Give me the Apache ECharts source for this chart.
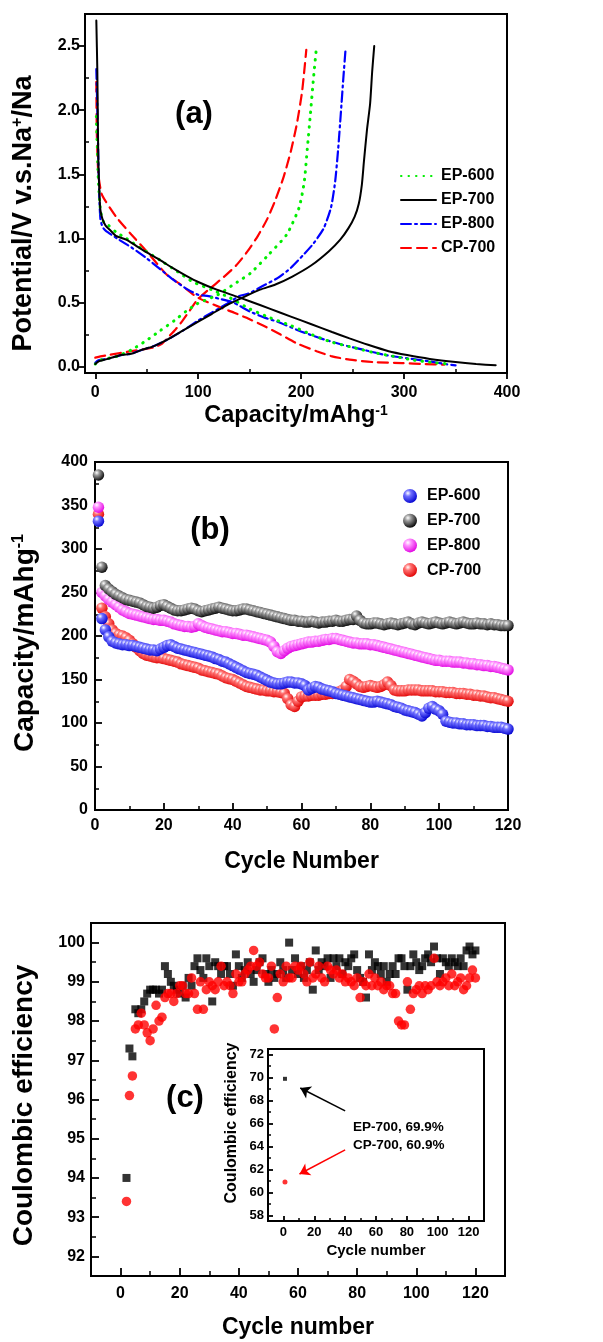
<!DOCTYPE html>
<html>
<head>
<meta charset="utf-8">
<script src="https://cdn.jsdelivr.net/npm/echarts@6/dist/echarts.min.js"></script>
<style>
  html, body { margin: 0; padding: 0; background: #fff; }
  #chart { width: 603px; height: 1342px; }
</style>
</head>
<body>
<div id="chart"></div>
<script>
const FONT = '"Liberation Sans", Arial, Helvetica, sans-serif'

// ---- panel (a): charge / discharge profiles, [capacity mAh/g, potential V]
const ep600Dis = [[1, 1.95], [2, 1.7], [3, 1.45], [5, 1.22], [8, 1.13], [13, 1.1], [20, 1.05], [30, 1.0], [45, 0.92], [63, 0.83], [80, 0.74], [95, 0.66], [113, 0.6], [130, 0.54], [150, 0.45], [170, 0.38], [190, 0.32], [210, 0.25], [230, 0.19], [250, 0.15], [270, 0.11], [290, 0.08], [310, 0.05], [330, 0.03], [344, 0.02]]
const ep600Chg = [[0, 0.02], [5, 0.05], [21, 0.08], [35, 0.13], [49, 0.2], [63, 0.28], [77, 0.36], [88, 0.43], [99, 0.49], [119, 0.56], [138, 0.66], [151, 0.73], [168, 0.87], [186, 1.03], [198, 1.24], [203, 1.44], [206, 1.7], [209, 1.97], [212, 2.25], [215, 2.5]]
const ep700Dis = [[1, 2.7], [2, 2.3], [2.5, 1.9], [3, 1.6], [4, 1.35], [5, 1.22], [7, 1.15], [10, 1.1], [15, 1.06], [20, 1.02], [30, 0.99], [40, 0.94], [50, 0.89], [63, 0.83], [75, 0.77], [88, 0.71], [100, 0.66], [118, 0.6], [136, 0.55], [150, 0.51], [170, 0.45], [190, 0.39], [210, 0.33], [230, 0.27], [247, 0.22], [265, 0.17], [285, 0.12], [303, 0.09], [325, 0.06], [350, 0.035], [370, 0.02], [389, 0.01]]
const ep700Chg = [[0, 0.02], [3, 0.04], [12, 0.06], [25, 0.09], [35, 0.1], [45, 0.13], [57, 0.16], [70, 0.21], [85, 0.28], [100, 0.35], [113, 0.41], [128, 0.48], [141, 0.53], [160, 0.6], [175, 0.64], [191, 0.7], [210, 0.79], [227, 0.9], [238, 0.99], [246, 1.08], [252, 1.17], [256, 1.27], [259, 1.42], [261, 1.6], [264, 1.85], [267, 2.05], [269, 2.3], [271, 2.5]]
const ep800Dis = [[1, 2.32], [2, 2.0], [3, 1.6], [4, 1.3], [5, 1.15], [7, 1.09], [10, 1.06], [21, 1.0], [35, 0.93], [49, 0.85], [63, 0.76], [77, 0.67], [90, 0.6], [100, 0.56], [110, 0.55], [120, 0.53], [134, 0.5], [150, 0.43], [165, 0.38], [177, 0.35], [198, 0.28], [219, 0.22], [240, 0.17], [261, 0.13], [282, 0.09], [303, 0.065], [325, 0.04], [340, 0.02], [350, 0.01]]
const ep800Chg = [[0, 0.03], [3, 0.05], [12, 0.06], [25, 0.09], [35, 0.1], [45, 0.13], [57, 0.16], [70, 0.21], [85, 0.28], [100, 0.36], [113, 0.42], [128, 0.49], [140, 0.55], [149, 0.57], [163, 0.63], [177, 0.69], [190, 0.77], [202, 0.87], [212, 0.96], [222, 1.08], [229, 1.24], [233, 1.44], [236, 1.7], [238.5, 1.97], [241, 2.25], [243, 2.46]]
const cp700Dis = [[1, 2.22], [1.5, 1.82], [3, 1.5], [6, 1.35], [10, 1.29], [21, 1.16], [35, 1.03], [52, 0.88], [69, 0.72], [83, 0.64], [99, 0.54], [122, 0.46], [135, 0.42], [147, 0.38], [163, 0.32], [180, 0.25], [196, 0.18], [215, 0.12], [230, 0.08], [247, 0.054], [270, 0.035], [298, 0.027], [320, 0.02], [339, 0.015]]
const cp700Chg = [[0, 0.07], [5, 0.08], [12.6, 0.09], [35, 0.12], [57, 0.15], [65, 0.18], [71, 0.23], [78, 0.29], [85, 0.36], [92, 0.44], [99, 0.52], [113, 0.62], [125, 0.7], [137, 0.79], [148, 0.9], [158, 1.02], [167, 1.15], [175, 1.3], [183, 1.48], [190, 1.68], [196, 1.9], [201, 2.15], [205, 2.47]]

// ---- panel (b): capacity vs cycle (cycles 1..120)
const capEP600 = [332, 220, 207, 199, 194, 192, 191, 190, 190, 189,
  189, 188, 187, 186, 185, 184, 184, 183, 185, 187,
  189, 190, 188, 186, 185, 184, 183, 182, 181, 180,
  179, 178, 177, 176, 174, 173, 171, 170, 168, 166,
  164, 162, 160, 158, 157, 156, 155, 153, 151, 149,
  147, 146, 145, 145, 146, 147, 147, 146, 146, 145,
  143, 138, 140, 142, 141, 139, 138, 137, 136, 134,
  133, 132, 131, 130, 129, 128, 127, 126, 125, 124,
  124, 125, 124, 123, 122, 121, 119, 118, 117, 115,
  114, 113, 112, 110, 108, 112, 117, 119, 116, 114,
  110, 102, 101, 100, 100, 99, 99, 98, 98, 98,
  97, 97, 97, 96, 96, 95, 95, 95, 94, 93]
const capEP700 = [385, 279, 258, 254, 251, 248, 246, 244, 242, 241,
  240, 239, 238, 236, 234, 233, 232, 233, 235, 236,
  234, 232, 230, 229, 229, 230, 231, 232, 231, 229,
  228, 229, 230, 231, 232, 233, 232, 231, 230, 229,
  229, 230, 231, 231, 230, 229, 228, 227, 226, 225,
  224, 223, 222, 221, 220, 219, 218, 218, 217, 217,
  216, 216, 217, 216, 215, 216, 216, 217, 217, 218,
  217, 217, 218, 219, 219, 223, 218, 215, 214, 214,
  215, 215, 214, 213, 214, 215, 214, 213, 214, 215,
  216, 214, 213, 215, 216, 215, 214, 215, 216, 215,
  214, 215, 216, 215, 214, 215, 216, 215, 214, 214,
  215, 214, 214, 213, 214, 213, 213, 212, 212, 212]
const capEP800 = [348, 250, 246, 242, 239, 236, 233, 230, 228, 226,
  225, 224, 223, 222, 221, 220, 219, 219, 218, 218,
  217, 216, 214, 213, 212, 211, 211, 210, 211, 214,
  212, 210, 209, 208, 207, 206, 205, 205, 204, 203,
  203, 202, 201, 201, 200, 199, 198, 197, 196, 195,
  193, 188, 182, 180, 183, 186, 188, 189, 190, 191,
  192, 193, 193, 194, 194, 195, 196, 196, 197, 197,
  196, 195, 194, 193, 192, 192, 191, 191, 191, 190,
  190, 189, 188, 187, 186, 185, 184, 183, 182, 181,
  180, 179, 178, 177, 176, 175, 174, 173, 172, 172,
  171, 171, 171, 170, 170, 170, 169, 169, 168, 168,
  167, 167, 166, 166, 165, 165, 164, 163, 162, 161]
const capCP700 = [340, 232, 222, 214, 207, 203, 201, 200, 198, 195,
  191, 187, 183, 180, 178, 177, 176, 175, 175, 174,
  173, 172, 171, 170, 168, 167, 166, 165, 164, 163,
  161, 160, 159, 158, 157, 156, 154, 152, 151, 150,
  148, 146, 144, 142, 141, 140, 139, 138, 138, 137,
  137, 136, 136, 135, 134, 128, 121, 119, 125, 130,
  131, 131, 132, 132, 132, 133, 133, 134, 134, 135,
  136, 138, 142, 150, 148, 145, 142, 141, 142, 143,
  142, 141, 142, 144, 147, 143, 138, 137, 137, 137,
  138, 138, 138, 138, 137, 137, 137, 137, 136, 136,
  136, 135, 135, 135, 134, 134, 134, 133, 133, 132,
  132, 131, 131, 130, 129, 129, 128, 127, 126, 125]

// ---- panel (c): coulombic efficiency, cycles 2..120
const ceEP700 = [94.0, 97.3, 97.1, 98.3, 98.2, 98.3, 98.5, 98.7, 98.8, 98.8, 98.8, 98.7, 98.8,
  99.4, 99.2, 99.0, 98.9, 98.8, 98.7, 98.9, 98.6, 99.1, 98.9, 99.4, 99.6, 99.3, 99.1, 99.6, 99.4,
  98.5, 99.5, 99.4, 99.2, 99.4, 99.4, 99.2, 98.9, 99.7, 99.4,
  99.1, 99.3, 99.5, 99.2, 99.0, 99.3, 99.5, 99.6, 99.2, 99.0,
  99.3, 99.1, 99.2, 99.5, 99.3, 99.1, 100.0, 99.3, 99.6, 99.2,
  99.4, 99.1, 99.3, 99.5, 98.8, 99.8, 99.3, 99.5, 99.4, 99.6,
  99.1, 99.6, 99.4, 99.6, 99.2, 99.5, 99.4, 99.6, 99.7, 99.3,
  99.1, 99.0, 98.6, 99.7, 99.3, 99.5, 99.4, 99.2, 99.4, 99.0,
  99.2, 99.4, 99.2, 99.6, 99.6, 99.4, 98.8, 99.4, 99.7, 99.5,
  99.3, 99.4, 99.6, 99.7, 99.5, 99.9, 99.6, 99.2, 99.6, 99.5,
  99.4, 99.6, 99.5, 99.4, 99.6, 99.4, 99.8, 99.9, 99.7, 99.8]
const ceCP700 = [93.4, 96.1, 96.6, 97.8, 97.9, 98.2, 97.9, 97.7, 97.5, 97.8, 98.4, 98.0, 98.1,
  98.6, 98.7, 98.7, 98.5, 98.7, 98.9, 98.9, 98.7, 98.7, 99.1, 98.7, 98.3, 99.0, 98.3, 98.8, 99.0,
  98.9, 98.8, 99.0, 99.4, 98.9, 99.0, 98.9, 98.7, 99.2, 99.0,
  99.0, 99.2, 99.3, 99.4, 99.8, 99.4, 99.5, 99.2, 99.1, 99.1,
  99.4, 97.8, 98.6, 99.2, 99.0, 99.4, 99.1, 99.1, 99.4, 99.3,
  99.4, 99.2, 99.0, 99.5, 99.1, 99.2, 99.4, 99.1, 99.0, 99.4,
  99.3, 99.2, 99.3, 99.1, 99.2, 99.0, 99.1, 99.0, 98.9, 99.1,
  98.6, 99.0, 98.9, 99.2, 98.9, 99.1, 98.9, 99.0, 98.8, 98.9,
  98.9, 98.7, 98.7, 98.0, 97.9, 97.9, 99.0, 98.3, 98.7, 98.8,
  98.9, 98.7, 98.9, 98.8, 98.9, 99.6, 99.0, 98.9, 99.0, 99.1,
  98.9, 99.2, 98.9, 99.0, 99.1, 98.8, 98.9, 99.1, 99.3, 99.1]

// inset: first cycle efficiency
const insetEP700 = [[1, 69.9]]
const insetCP700 = [[1, 60.9]]
const arrowEP700 = [[40, 67.1], [10.9, 69.1]]
const arrowCP700 = [[40, 63.7], [10.4, 61.6]]

// tick values
const aXTicks = [0, 100, 200, 300, 400]
const aXMinor = [50, 150, 250, 350]
const aYTicks = [0, 0.5, 1, 1.5, 2, 2.5]
const aYMinor = [0.25, 0.75, 1.25, 1.75, 2.25]
const bXTicks = [0, 20, 40, 60, 80, 100, 120]
const bXMinor = [10, 30, 50, 70, 90, 110]
const bYTicks = [0, 50, 100, 150, 200, 250, 300, 350, 400]
const bYMinor = [25, 75, 125, 175, 225, 275, 325, 375]
const cXTicks = [0, 20, 40, 60, 80, 100, 120]
const cXMinor = [10, 30, 50, 70, 90, 110]
const cYTicks = [92, 93, 94, 95, 96, 97, 98, 99, 100]
const cYMinor = [92.5, 93.5, 94.5, 95.5, 96.5, 97.5, 98.5, 99.5]
const iYTicks = [58, 60, 62, 64, 66, 68, 70, 72]
const iYMinor = [59, 61, 63, 65, 67, 69, 71]

const cyclesB = []
for (let i = 1; i <= 120; i++) cyclesB.push(i)
const cyclesC = []
for (let i = 2; i <= 120; i++) cyclesC.push(i)
const pair = (xs, ys) => xs.map((x, i) => [x, ys[i]])

const chart = echarts.init(document.getElementById('chart'))

const supStyle = (size) => ({
  sup: { fontSize: size, fontWeight: 'bold', fontFamily: FONT, color: '#000', verticalAlign: 'top' }
})

// major axis (labels + long ticks) and a twin axis carrying only minor ticks
function axisPair (dim, gridIndex, min, max, ticks, minor, o) {
  const common = {
    type: 'value', gridIndex, min, max,
    position: dim === 'x' ? 'bottom' : 'left',
    splitLine: { show: false }
  }
  const major = Object.assign({}, common, {
    name: o.name || '',
    nameLocation: 'middle',
    nameGap: o.nameGap || 0,
    nameTextStyle: {
      fontSize: o.nameSize || 23, fontWeight: 'bold', fontFamily: FONT, color: '#000',
      padding: o.namePad || 0,
      rich: supStyle(o.supSize || 14)
    },
    axisLine: { show: true, onZero: false, lineStyle: { color: '#000', width: 2 } },
    axisTick: { show: true, inside: !!o.inside, length: o.len, customValues: ticks, lineStyle: { color: '#000', width: 1.8 } },
    axisLabel: {
      show: true, customValues: ticks, formatter: o.fmt,
      fontSize: o.fs || 16, fontWeight: 'bold', fontFamily: FONT, color: '#000', margin: o.margin
    }
  })
  const minorAxis = Object.assign({}, common, {
    axisLine: { show: false, onZero: false },
    axisTick: { show: true, inside: true, length: o.minorLen, customValues: minor, lineStyle: { color: '#000', width: 1.5 } },
    axisLabel: { show: false }
  })
  return [major, minorAxis]
}

const xAxes = [].concat(
  axisPair('x', 0, -10, 400, aXTicks, aXMinor, { name: 'Capacity/mAhg{sup|-1}', nameGap: 31, nameSize: 23.5, len: 6, minorLen: 4, margin: 12 }),
  axisPair('x', 1, 0, 120, bXTicks, bXMinor, { name: 'Cycle Number', nameGap: 40, inside: true, len: 7, minorLen: 4, margin: 8 }),
  axisPair('x', 2, -10, 130, cXTicks, cXMinor, { name: 'Cycle number', nameGap: 40, inside: true, len: 8, minorLen: 5, margin: 10 }),
  axisPair('x', 3, -10, 130, cXTicks, cXMinor, { name: 'Cycle number', nameGap: 22, nameSize: 15, inside: true, len: 5, minorLen: 3, margin: 5, fs: 13 })
)
const yAxes = [].concat(
  axisPair('y', 0, -0.05, 2.75, aYTicks, aYMinor, { name: 'Potential/V v.s.Na{sup|+}/Na', nameGap: 48, nameSize: 27, supSize: 16, namePad: [0, 40, 0, 0], len: 6, minorLen: 4, margin: 5, fmt: v => v.toFixed(1) }),
  axisPair('y', 1, 0, 400, bYTicks, bYMinor, { name: 'Capacity/mAhg{sup|-1}', nameGap: 56, nameSize: 28, supSize: 16, namePad: [0, 14, 0, 0], inside: true, len: 7, minorLen: 4, margin: 7 }),
  axisPair('y', 2, 91.5, 100.5, cYTicks, cYMinor, { name: 'Coulombic efficiency', nameGap: 53, nameSize: 28, namePad: [0, 12, 0, 0], inside: true, len: 8, minorLen: 5, margin: 6 }),
  axisPair('y', 3, 57.5, 72.5, iYTicks, iYMinor, { name: 'Coulombic efficiency', nameGap: 28, nameSize: 16, namePad: [0, 0, 0, 24], inside: true, len: 5, minorLen: 3, margin: 4, fs: 13 })
)

const gridBox = { show: true, borderColor: '#000', borderWidth: 2, outerBoundsMode: 'none', containLabel: false }

function profile (name, data, color, type, width) {
  return {
    name, type: 'line', xAxisIndex: 0, yAxisIndex: 0, data,
    showSymbol: false, symbol: 'none', smooth: 0.2,
    lineStyle: { color, width, type, cap: 'round' },
    itemStyle: { color }
  }
}

function ball (light, dark) {
  return new echarts.graphic.RadialGradient(0.35, 0.3, 0.75, [
    { offset: 0, color: '#ffffff' },
    { offset: 0.3, color: light },
    { offset: 1, color: dark }
  ])
}

function capSeries (name, values, light, dark) {
  return {
    name, type: 'scatter', xAxisIndex: 2, yAxisIndex: 2,
    data: pair(cyclesB, values), symbol: 'circle', symbolSize: 11.5,
    itemStyle: { color: ball(light, dark), opacity: 1 }
  }
}

function arrow (from, to, color) {
  return {
    silent: true, symbol: ['none', 'arrow'], symbolSize: 10,
    lineStyle: { color, width: 1.5, type: 'solid' }, label: { show: false },
    data: [[{ coord: from }, { coord: to }]]
  }
}

const DOT = [0.5, 7]
const DASH = [10, 6]
const DASHDOT = [10, 4, 2, 4]
const labelText = { fontWeight: 'bold', fontFamily: FONT, fill: '#000', verticalAlign: 'middle' }

const option = {
  animation: false,
  backgroundColor: '#fff',
  textStyle: { fontFamily: FONT },
  grid: [
    Object.assign({ left: 85, top: 14, width: 422, height: 359 }, gridBox),
    Object.assign({ left: 95, top: 462, width: 413, height: 348 }, gridBox),
    Object.assign({ left: 91, top: 923, width: 414, height: 353 }, gridBox),
    Object.assign({ left: 268, top: 1049, width: 216, height: 172, backgroundColor: '#fff' }, gridBox)
  ],
  xAxis: xAxes,
  yAxis: yAxes,
  legend: [
    {
      left: 395, top: 163, orient: 'vertical', itemWidth: 35, itemHeight: 14, itemGap: 8,
      itemStyle: { color: 'rgba(0,0,0,0)', borderColor: 'rgba(0,0,0,0)', borderWidth: 0 },
      textStyle: { fontSize: 16, fontWeight: 'bold', color: '#000', fontFamily: FONT },
      data: ['EP-600', 'EP-700', 'EP-800', 'CP-700']
    },
    {
      left: 398, top: 483, orient: 'vertical', itemWidth: 14, itemHeight: 14, itemGap: 8.7,
      textStyle: { fontSize: 16, fontWeight: 'bold', color: '#000', fontFamily: FONT, padding: [0, 0, 0, 5] },
      formatter: n => n.replace('b:', ''),
      data: ['b:EP-600', 'b:EP-700', 'b:EP-800', 'b:CP-700']
    }
  ],
  series: [
    profile('CP-700', cp700Dis, '#ff0000', DASH, 2.2),
    profile('CP-700', cp700Chg, '#ff0000', DASH, 2.2),
    profile('EP-800', ep800Dis, '#0000ff', DASHDOT, 2.2),
    profile('EP-800', ep800Chg, '#0000ff', DASHDOT, 2.2),
    profile('EP-600', ep600Dis, '#00ee00', DOT, 3),
    profile('EP-600', ep600Chg, '#00ee00', DOT, 3),
    profile('EP-700', ep700Dis, '#000000', 'solid', 2),
    profile('EP-700', ep700Chg, '#000000', 'solid', 2),

    capSeries('b:CP-700', capCP700, '#ff7070', '#e00000'),
    capSeries('b:EP-800', capEP800, '#ff90ff', '#e000e0'),
    capSeries('b:EP-700', capEP700, '#9a9a9a', '#000000'),
    capSeries('b:EP-600', capEP600, '#7070ff', '#0000d0'),

    {
      name: 'c:EP-700', type: 'scatter', xAxisIndex: 4, yAxisIndex: 4,
      data: pair(cyclesC, ceEP700), symbol: 'rect', symbolSize: 8,
      itemStyle: { color: '#000' }
    },
    {
      name: 'c:CP-700', type: 'scatter', xAxisIndex: 4, yAxisIndex: 4,
      data: pair(cyclesC, ceCP700), symbol: 'circle', symbolSize: 9.5,
      itemStyle: { color: '#ff0000' }
    },
    {
      name: 'i:EP-700', type: 'scatter', xAxisIndex: 6, yAxisIndex: 6,
      data: insetEP700, symbol: 'rect', symbolSize: 4,
      itemStyle: { color: '#000' },
      markLine: arrow(arrowEP700[0], arrowEP700[1], '#000')
    },
    {
      name: 'i:CP-700', type: 'scatter', xAxisIndex: 6, yAxisIndex: 6,
      data: insetCP700, symbol: 'circle', symbolSize: 5,
      itemStyle: { color: '#ff0000' },
      markLine: arrow(arrowCP700[0], arrowCP700[1], '#ff0000')
    }
  ],
  graphic: [
    { type: 'text', x: 194, y: 114, style: Object.assign({ text: '(a)', fontSize: 31, align: 'center' }, labelText) },
    { type: 'text', x: 210, y: 530, style: Object.assign({ text: '(b)', fontSize: 31, align: 'center' }, labelText) },
    { type: 'text', x: 185, y: 1098, style: Object.assign({ text: '(c)', fontSize: 31, align: 'center' }, labelText) },
    { type: 'text', x: 353, y: 1127, style: Object.assign({ text: 'EP-700, 69.9%', fontSize: 13.5, align: 'left' }, labelText) },
    { type: 'text', x: 353, y: 1145, style: Object.assign({ text: 'CP-700, 60.9%', fontSize: 13.5, align: 'left' }, labelText) }
  ]
}

chart.setOption(option)
</script>
</body>
</html>
